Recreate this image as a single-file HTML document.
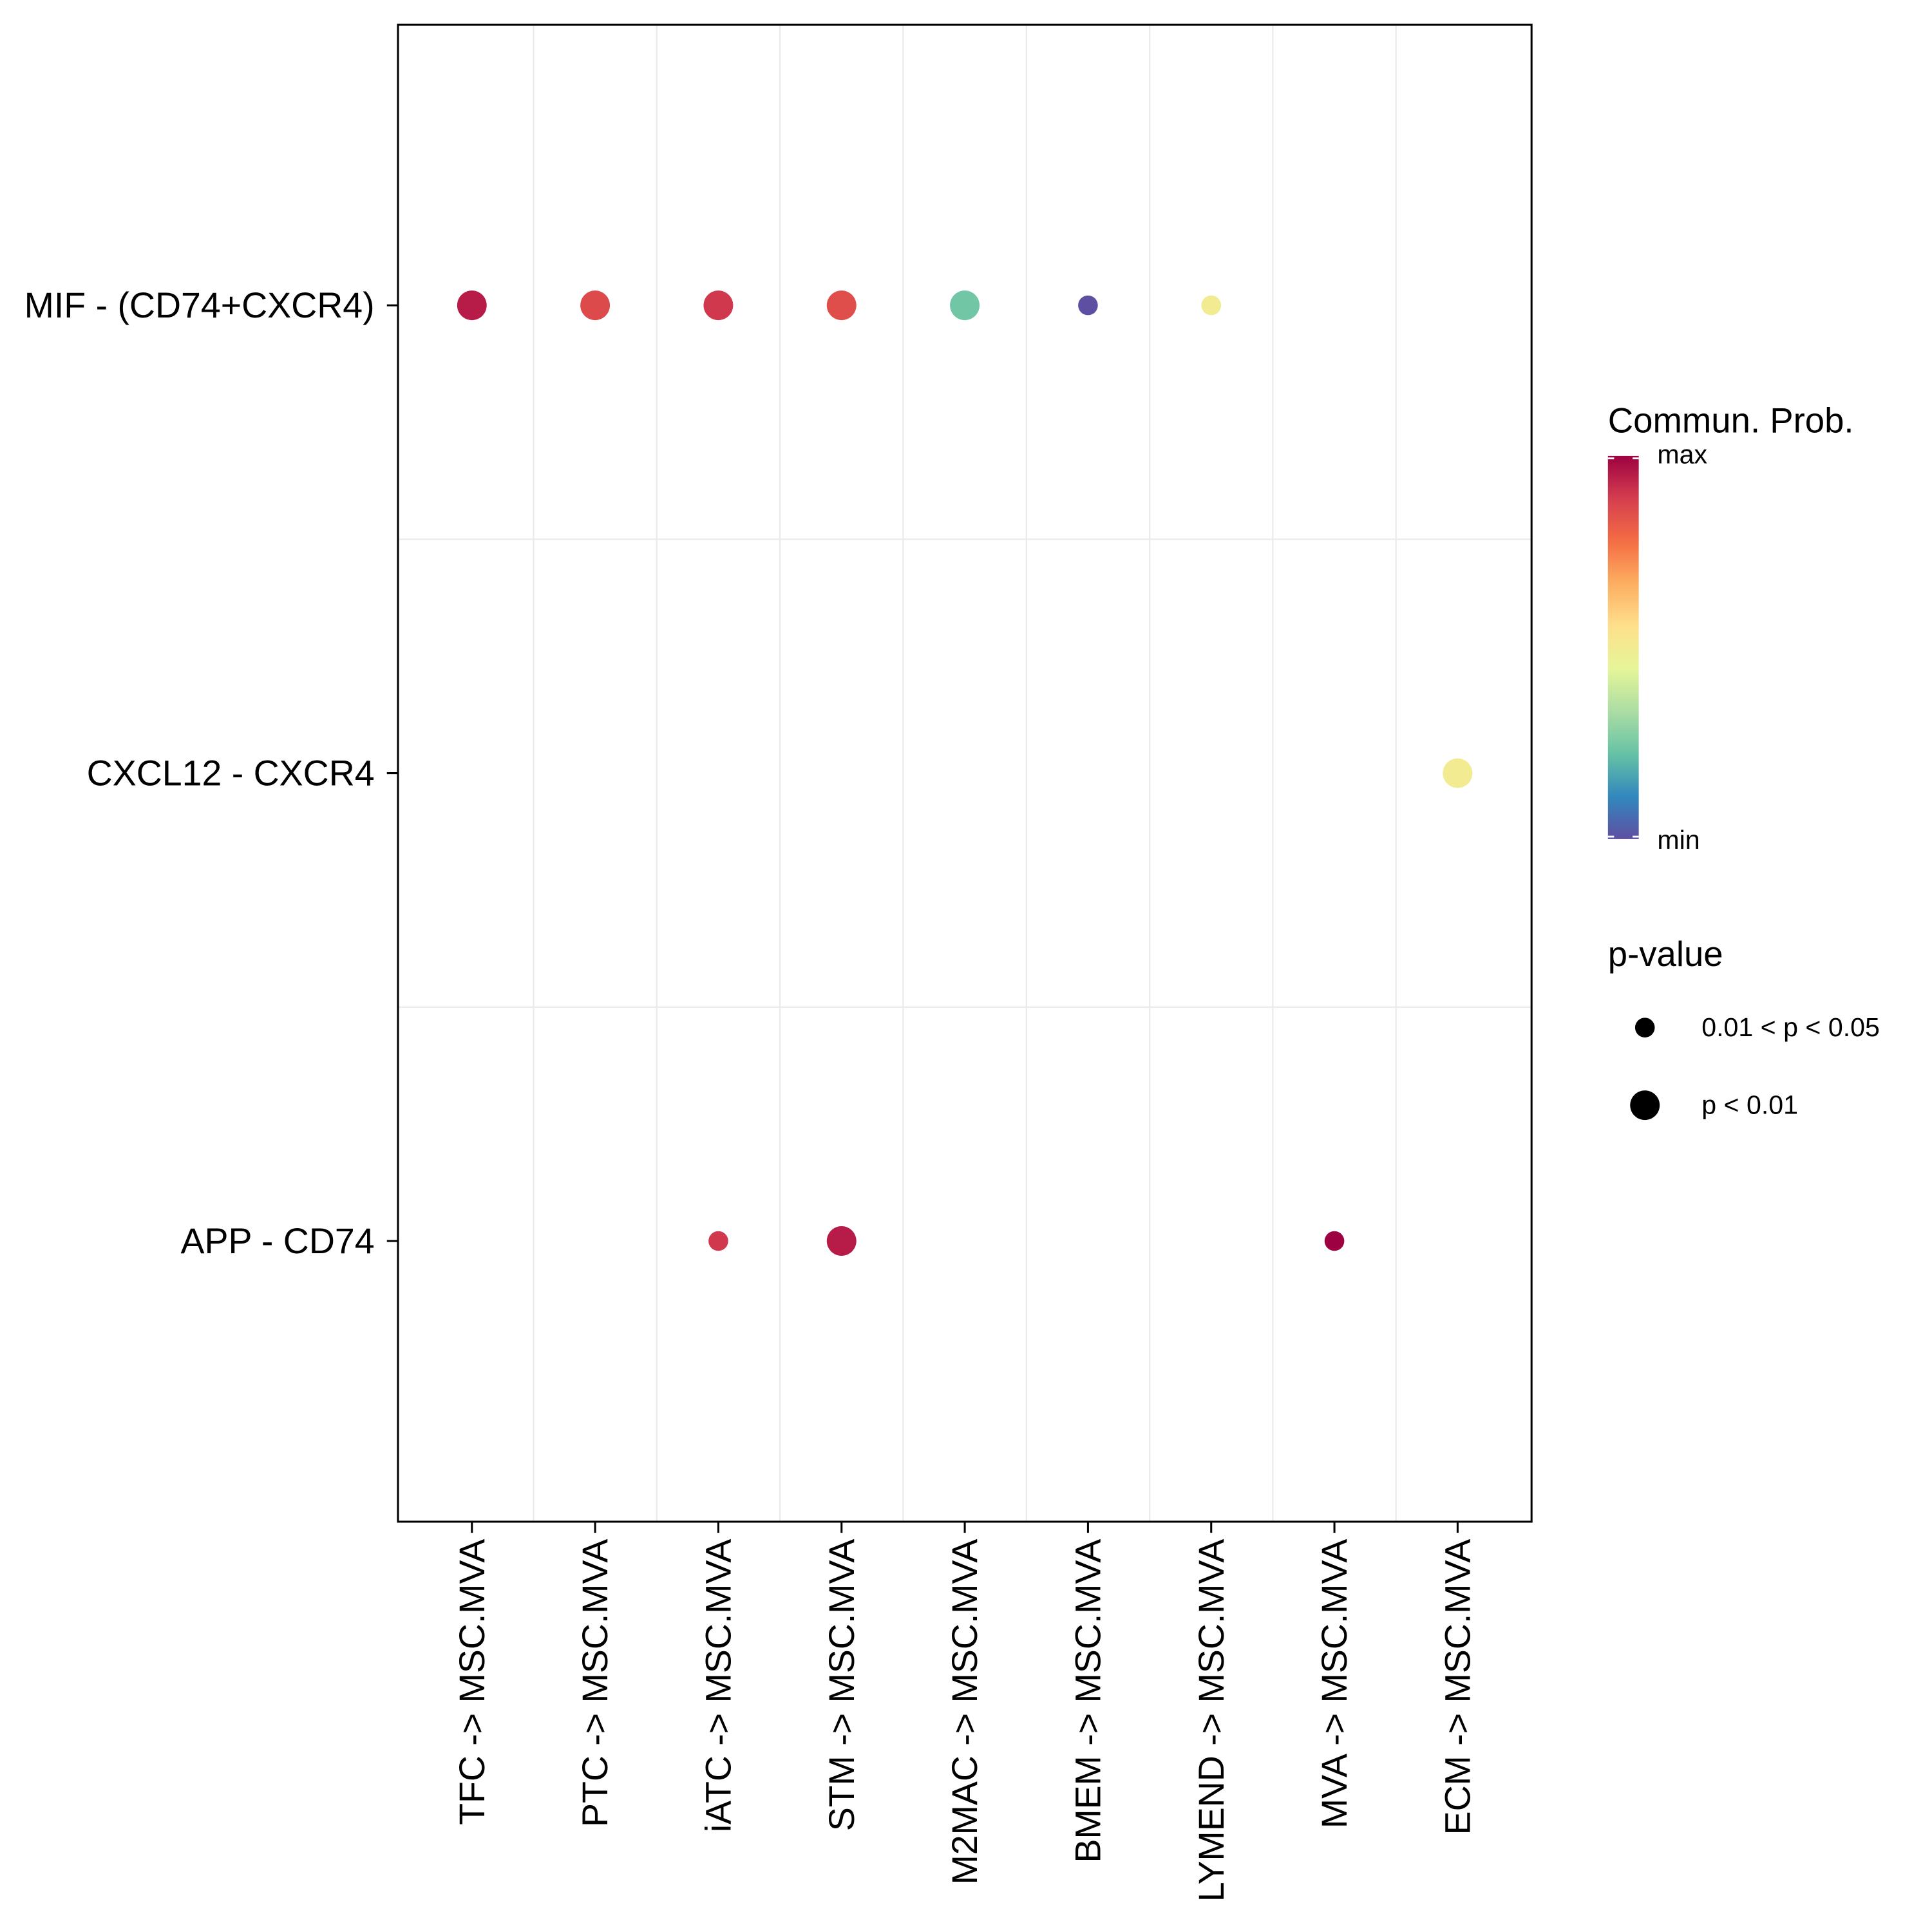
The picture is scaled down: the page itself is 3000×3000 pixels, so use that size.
<!DOCTYPE html>
<html><head><meta charset="utf-8"><style>
html,body{margin:0;padding:0;background:#fff}
svg{display:block;font-family:"Liberation Sans",Arial,sans-serif}
</style></head><body>
<svg id="chart" width="3000" height="3000" viewBox="0 0 1568 1568" xmlns="http://www.w3.org/2000/svg">
<defs>
<linearGradient id="cb" x1="0" y1="1" x2="0" y2="0">
<stop offset="0" stop-color="#5E4FA2"/><stop offset="0.1111" stop-color="#3288BD"/>
<stop offset="0.2222" stop-color="#66C2A5"/><stop offset="0.3333" stop-color="#ABDDA4"/>
<stop offset="0.4444" stop-color="#E6F598"/><stop offset="0.5556" stop-color="#FEE08B"/>
<stop offset="0.6667" stop-color="#FDAE61"/><stop offset="0.7778" stop-color="#F46D43"/>
<stop offset="0.8889" stop-color="#D53E4F"/><stop offset="1" stop-color="#9E0142"/>
</linearGradient>
</defs>
<g id="grid"></g>
<g id="marks"></g>
<rect x="323" y="20" width="920" height="1215" fill="none" stroke="#000" stroke-width="1.6"/>
<g id="axes"></g>
<g>
<text x="1305" y="351" font-size="28.5">Commun. Prob.</text>
<rect x="1305" y="370" width="25" height="311" fill="url(#cb)"/>
<line x1="1305" y1="372" x2="1310" y2="372" stroke="#fff" stroke-width="1.5"/>
<line x1="1325" y1="372" x2="1330" y2="372" stroke="#fff" stroke-width="1.5"/>
<line x1="1305" y1="679" x2="1310" y2="679" stroke="#fff" stroke-width="1.5"/>
<line x1="1325" y1="679" x2="1330" y2="679" stroke="#fff" stroke-width="1.5"/>
<text x="1345" y="376" font-size="21.5">max</text>
<text x="1345" y="689" font-size="21.5">min</text>
</g>
<g>
<text x="1305" y="784" font-size="28.5">p-value</text>
<circle cx="1335" cy="834" r="8" fill="#000"/>
<text x="1381" y="841" font-size="21.5">0.01 &lt; p &lt; 0.05</text>
<circle cx="1335" cy="897" r="12" fill="#000"/>
<text x="1381" y="904" font-size="21.5">p &lt; 0.01</text>
</g>
</svg>
<script>
const categories=["TFC -> MSC.MVA","PTC -> MSC.MVA","iATC -> MSC.MVA","STM -> MSC.MVA","M2MAC -> MSC.MVA","BMEM -> MSC.MVA","LYMEND -> MSC.MVA","MVA -> MSC.MVA","ECM -> MSC.MVA"];
const pairs=["MIF - (CD74+CXCR4)","CXCL12 - CXCR4","APP - CD74"];
const ptX=[0,1,2,3,4,5,6,2,3,7,8];
const ptY=[0,0,0,0,0,0,0,2,2,2,1];
const probVals=[0.95,0.86,0.9,0.85,0.24,0.0,0.5,0.9,0.95,1.0,0.5];
const pSig=[1,1,1,1,1,0,0,0,1,0,1];
const NS="http://www.w3.org/2000/svg";
const L=323,R=1243,T=20,B=1235;
function xs(i){return L+(i+0.6)*(R-L)/(categories.length-1+1.2);}
function ys(j){return T+(j+0.6)*(B-T)/(pairs.length-1+1.2);}
const stops=["#5E4FA2","#3288BD","#66C2A5","#ABDDA4","#E6F598","#FEE08B","#FDAE61","#F46D43","#D53E4F","#9E0142"];
function hx(c){return [1,3,5].map(k=>parseInt(c.substr(k,2),16));}
function col(v){const n=stops.length-1;const t=Math.max(0,Math.min(1,v))*n;const i=Math.min(n-1,Math.floor(t));const f=t-i;const a=hx(stops[i]),b=hx(stops[i+1]);return "rgb("+a.map((x,k)=>Math.round(x+(b[k]-x)*f)).join(",")+")";}
function mk(tag,at,par){const e=document.createElementNS(NS,tag);for(const k in at)e.setAttribute(k,at[k]);par.appendChild(e);return e;}
const grid=document.getElementById("grid"),marks=document.getElementById("marks"),axes=document.getElementById("axes");
for(let i=0;i<categories.length;i++){
 if(i<categories.length-1){
  const l=mk("line",{x1:(xs(i)+xs(i+1))/2,x2:(xs(i)+xs(i+1))/2,y1:T,y2:B,stroke:"#ebebeb","stroke-width":1.2},grid);
  
  
 }
 mk("line",{x1:xs(i),x2:xs(i),y1:B,y2:B+9,stroke:"#000","stroke-width":1.6},axes);
 const t=mk("text",{x:0,y:0,"font-size":29,"text-anchor":"end",transform:"translate("+(xs(i)+10)+","+(B+14)+") rotate(-90)"},axes);
 t.textContent=categories[i];
 
 
}
for(let j=0;j<pairs.length;j++){
 if(j<pairs.length-1){
  const l=mk("line",{x1:L,x2:R,y1:(ys(j)+ys(j+1))/2,y2:(ys(j)+ys(j+1))/2,stroke:"#ebebeb","stroke-width":1.2},grid);
  
  
 }
 mk("line",{x1:L-9,x2:L,y1:ys(j),y2:ys(j),stroke:"#000","stroke-width":1.6},axes);
 const t=mk("text",{x:L-19,y:ys(j)+10,"font-size":29,"text-anchor":"end"},axes);
 t.textContent=pairs[j];
 
 
}
for(let k=0;k<probVals.length;k++){
 const c=mk("circle",{cx:xs(ptX[k]),cy:ys(ptY[k]),r:pSig[k]?12:8,fill:col(probVals[k])},marks);
 
 
}
</script>
</body></html>
